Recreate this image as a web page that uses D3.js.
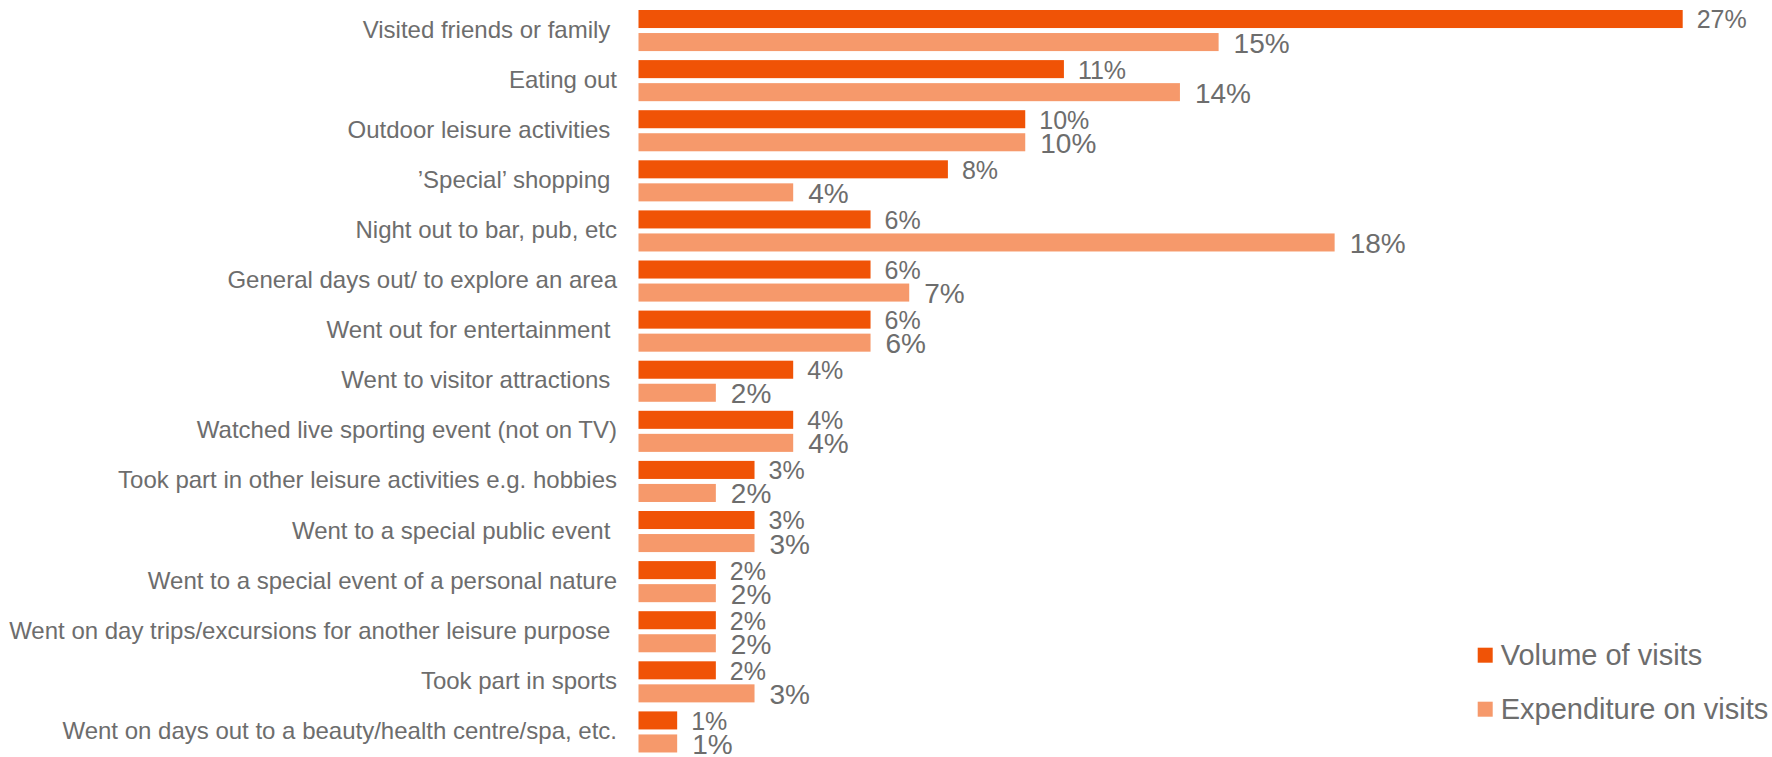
<!DOCTYPE html>
<html>
<head>
<meta charset="utf-8">
<script src="https://cdn.jsdelivr.net/npm/d3@7"></script>
<style>
  html, body { margin: 0; padding: 0; background: #ffffff; }
  svg { display: block; }
  text { font-family: "Liberation Sans", Arial, sans-serif; fill: #6D6D6D; white-space: pre; }
</style>
</head>
<body>
<svg id="chart" width="1772" height="757"></svg>
<script>
const categories = [
  "Visited friends or family ",
  "Eating out",
  "Outdoor leisure activities ",
  "\u2019Special\u2019 shopping ",
  "Night out to bar, pub, etc",
  "General days out/ to explore an area",
  "Went out for entertainment ",
  "Went to visitor attractions ",
  "Watched live sporting event (not on TV)",
  "Took part in other leisure activities e.g. hobbies",
  "Went to a special public event ",
  "Went to a special event of a personal nature",
  "Went on day trips/excursions for another leisure purpose ",
  "Took part in sports",
  "Went on days out to a beauty/health centre/spa, etc."
];
const volume      = [27, 11, 10, 8, 6, 6, 6, 4, 4, 3, 3, 2, 2, 2, 1];
const expenditure = [15, 14, 10, 4, 18, 7, 6, 2, 4, 2, 3, 2, 2, 3, 1];
const seriesNames = ["Volume of visits", "Expenditure on visits"];
const seriesKeys  = ["vol", "exp"];
const colors      = ["#F05306", "#F6996B"];

const svg = d3.select("#chart");

const x = d3.scaleLinear().domain([0, 27]).range([638.5, 1682.7]);
const y = d3.scaleBand().domain(categories)
  .range([5.49, 5.49 + 751.5]).paddingInner(0.18).paddingOuter(0.09);
const ySub = d3.scaleBand().domain(seriesKeys)
  .range([0, y.bandwidth()]).paddingInner(0.217);

const rows = categories.map((c, i) => ({
  cat: c,
  values: [
    {key: "vol", v: volume[i]},
    {key: "exp", v: expenditure[i]}
  ]
}));

const color = d3.scaleOrdinal().domain(seriesKeys).range(colors);
const labelSize = {vol: 25, exp: 28};
const labelGap = {vol: 14, exp: 15};

const g = svg.append("g");
const rowG = g.selectAll("g.row").data(rows).enter().append("g")
  .attr("class", "row")
  .attr("transform", d => `translate(0,${y(d.cat)})`);

rowG.selectAll("rect").data(d => d.values).enter().append("rect")
  .attr("x", x(0))
  .attr("y", d => ySub(d.key))
  .attr("width", d => x(d.v) - x(0))
  .attr("height", ySub.bandwidth())
  .attr("fill", d => color(d.key));

rowG.selectAll("text.val").data(d => d.values).enter().append("text")
  .attr("class", "val")
  .attr("x", d => x(d.v) + labelGap[d.key])
  .attr("y", d => ySub(d.key) + ySub.bandwidth() / 2 + 0.358 * labelSize[d.key] + 0.5)
  .attr("font-size", d => labelSize[d.key])
  .text(d => d.v + "%");

// category labels
rowG.append("text")
  .attr("class", "cat")
  .attr("x", 617)
  .attr("y", y.bandwidth() / 2 + 7)
  .attr("text-anchor", "end")
  .attr("font-size", 24)
  .text(d => d.cat);

// legend
const legend = svg.append("g").attr("transform", "translate(1477.7,647.7)");
const li = legend.selectAll("g").data(seriesKeys).enter().append("g")
  .attr("transform", (d, i) => `translate(0,${i * 54})`);
li.append("rect").attr("width", 15).attr("height", 15).attr("fill", d => color(d));
li.append("text").attr("x", 23).attr("y", 17.5).attr("font-size", 29)
  .text((d, i) => seriesNames[i]);
</script>
</body>
</html>
